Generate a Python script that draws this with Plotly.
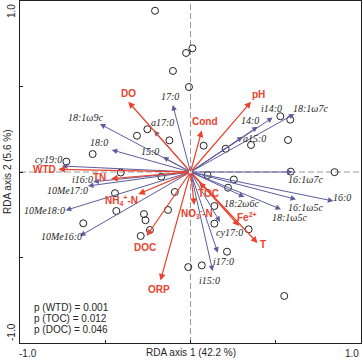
import plotly.graph_objects as go

# ---------------- data ----------------
site_x = [-0.208, -0.103, -0.314, -0.253, -0.124, -0.574, -0.728, -0.409, -0.171,
          0.011, -0.026, -0.009, 0.077, 0.206, 0.355, 0.527, 0.585, 0.572, 0.588,
          0.845, 0.100, 0.254, 0.220, 0.140, 0.140, 0.341, 0.214, -0.013, 0.066,
          0.550, -0.443, -0.435, -0.629, -0.273, -0.264, -0.238, -0.292, -0.132, -0.092]
site_y = [0.943, 0.591, 0.212, 0.250, 0.185, 0.105, 0.061, -0.003, -0.027,
          0.723, 0.696, 0.497, 0.154, 0.136, 0.158, 0.326, 0.306, 0.187, 0.002,
          -0.001, -0.018, -0.044, -0.092, -0.199, -0.302, -0.335, -0.466, -0.556, -0.546,
          -0.725, -0.124, -0.228, -0.300, -0.246, -0.282, -0.339, -0.374, -0.222, -0.117]

species = ["18:1ω9c", "18:0", "15:0", "a17:0", "17:0", "cy19:0", "i16:0", "10Me17:0",
           "10Me18:0", "10Me16:0", "i14:0", "18:1ω7c", "14:0", "a15:0", "16:1ω7c", "16:0",
           "16:1ω5c", "18:1ω5c", "18:2ω6c", "cy17:0", "i17:0", "i15:0"]
species_x = [-0.531, -0.462, -0.161, -0.214, -0.104, -0.754, -0.570, -0.601,
             -0.732, -0.648, 0.482, 0.609, 0.394, 0.306, 0.599, 0.838,
             0.619, 0.531, 0.316, 0.173, 0.160, 0.130]
species_y = [0.281, 0.129, 0.088, 0.242, 0.392, 0.035, -0.057, -0.082,
             -0.224, -0.374, 0.318, 0.339, 0.265, 0.206, 0.000, -0.170,
             -0.160, -0.218, -0.146, -0.292, -0.472, -0.579]

env = ["DO", "Cond", "pH", "WTD", "TN", "NH<sub>4</sub><sup>+</sup>-N", "DOC", "ORP",
       "TOC", "NO<sub>3</sub><sup>-</sup>-N", "Fe<sup>2+</sup>", "T"]
env_x = [-0.365, 0.066, 0.355, -0.775, -0.466, -0.306, -0.257, -0.176,
         0.050, 0.022, 0.286, 0.393]
env_y = [0.411, 0.242, 0.411, 0.016, -0.039, -0.130, -0.374, -0.635,
         -0.060, -0.193, -0.316, -0.415]

x_title = "RDA axis 1 (42.2 %)"
y_title = "RDA axis 2 (5.6 %)"
tick_labels = ["-1.0", "1.0"]
p_values = ["p (WTD) = 0.001", "p (TOC) = 0.012", "p (DOC) = 0.046"]

# ---------------- styles / label offsets (pixels) ----------------
species_off = {
    "18:1ω9c": (-14, 6), "18:0": (-13, 7), "15:0": (-13, 5), "a17:0": (8, 8),
    "17:0": (-3, 8), "cy19:0": (-13, 7), "i16:0": (-11, 2), "10Me17:0": (-21, -4),
    "10Me18:0": (-21, 0), "10Me16:0": (-19, -1), "i14:0": (-1, 9), "18:1ω7c": (16, 6),
    "14:0": (-8, 6), "a15:0": (12, -2), "16:1ω7c": (13, -7), "16:0": (9, 4),
    "16:1ω5c": (9, -8), "18:1ω5c": (8, -8), "18:2ω6c": (-3, -7), "cy17:0": (9, -11),
    "i17:0": (6, -9), "i15:0": (-3, -9),
}
env_off = [(0, 8), (3, 9), (7, 7), (-14, 0), (-12, 1), (-17, -6), (-2, -12), (-1, -9),
           (9, -11), (3, -8), (8, 9), (5, -2)]

BLUE = "#5d5d9e"
RED = "#e8432d"
TXT = "#262626"
SERIF = "Liberation Serif, Times New Roman, serif"
SANS = "Liberation Sans, Arial, sans-serif"

fig = go.Figure()

# dashed zero lines
fig.add_shape(type="line", x0=0, x1=0, y0=-1, y1=1, xref="x", yref="y",
              line=dict(color="#999999", width=1, dash="6px,3px"), layer="below")
fig.add_shape(type="line", x0=-1, x1=1, y0=0, y1=0, xref="x", yref="y",
              line=dict(color="#999999", width=1, dash="6px,3px"), layer="below")

annotations = []
# species arrows
for name, sx, sy in zip(species, species_x, species_y):
    annotations.append(dict(x=sx, y=sy, ax=0, ay=0, xref="x", yref="y", axref="x", ayref="y",
                            text="", showarrow=True, arrowhead=2, arrowsize=1.1,
                            arrowwidth=1, arrowcolor=BLUE, standoff=0))
    dx, dy = species_off[name]
    annotations.append(dict(x=sx, y=sy, xref="x", yref="y", text=name, showarrow=False,
                            xshift=dx, yshift=dy,
                            font=dict(family=SERIF, size=10, color=TXT, style="italic")))

# env arrows
for i, (name, ex, ey) in enumerate(zip(env, env_x, env_y)):
    if name == "TOC":
        annotations.append(dict(x=ex, y=ey, ax=7, ay=7, xref="x", yref="y",
                                text="", showarrow=True, arrowhead=2, arrowsize=1.1,
                                arrowwidth=1.2, arrowcolor=RED, standoff=0))
    else:
        annotations.append(dict(x=ex, y=ey, ax=0, ay=0, xref="x", yref="y", axref="x", ayref="y",
                                text="", showarrow=True, arrowhead=2, arrowsize=1.1,
                                arrowwidth=1.2, arrowcolor=RED, standoff=0))
    dx, dy = env_off[i]
    annotations.append(dict(x=ex, y=ey, xref="x", yref="y", text="<b>%s</b>" % name,
                            showarrow=False, xshift=dx, yshift=dy,
                            font=dict(family=SANS, size=10, color=RED)))

# axis titles
annotations.append(dict(x=0.5, y=0, xref="paper", yref="paper", text=x_title, showarrow=False,
                        xanchor="center", yanchor="top", yshift=-2,
                        font=dict(family=SANS, size=10, color=TXT)))
annotations.append(dict(x=0, y=0.5, xref="paper", yref="paper", text=y_title, showarrow=False,
                        textangle=-90, xanchor="center", yanchor="middle", xshift=-13,
                        font=dict(family=SANS, size=10, color=TXT)))
# tick labels
annotations.append(dict(x=0, y=0, xref="paper", yref="paper", text=tick_labels[0], showarrow=False,
                        xanchor="left", yanchor="top", xshift=-3, yshift=-3,
                        font=dict(family=SANS, size=10, color=TXT)))
annotations.append(dict(x=1, y=0, xref="paper", yref="paper", text=tick_labels[1], showarrow=False,
                        xanchor="right", yanchor="top", xshift=0, yshift=-3,
                        font=dict(family=SANS, size=10, color=TXT)))
annotations.append(dict(x=0, y=1, xref="paper", yref="paper", text=tick_labels[1], showarrow=False,
                        textangle=-90, xanchor="center", yanchor="top", xshift=-9, yshift=-1,
                        font=dict(family=SANS, size=10, color=TXT)))
annotations.append(dict(x=0, y=0, xref="paper", yref="paper", text=tick_labels[0], showarrow=False,
                        textangle=-90, xanchor="center", yanchor="bottom", xshift=-9, yshift=0,
                        font=dict(family=SANS, size=10, color=TXT)))
# p-values
for k, txt in enumerate(p_values):
    annotations.append(dict(x=0, y=0, xref="paper", yref="paper", text=txt, showarrow=False,
                            xanchor="left", yanchor="middle", xshift=12, yshift=36 - 11 * k,
                            font=dict(family=SANS, size=10, color=TXT)))

# sites
fig.add_trace(go.Scatter(x=site_x, y=site_y, mode="markers",
                         marker=dict(symbol="circle-open", size=7, color="#222222",
                                     line=dict(width=1, color="#222222")),
                         hoverinfo="skip", showlegend=False))

axis_common = dict(range=[-1, 1], showgrid=False, zeroline=False, showline=True,
                   linecolor="#222222", linewidth=1, mirror=True, ticks="inside",
                   ticklen=3, tickcolor="#222222", tickvals=[-1, -0.5, 0, 0.5, 1],
                   showticklabels=False)
fig.update_layout(
    width=363, height=362,
    margin=dict(l=20, r=2, t=1, b=19),
    paper_bgcolor="white", plot_bgcolor="white",
    xaxis=axis_common, yaxis=axis_common,
    annotations=annotations,
    showlegend=False,
)
fig.write_html("out.html", config={"displayModeBar": False},
               post_script="document.body.style.margin='0';document.body.style.overflow='hidden';")
